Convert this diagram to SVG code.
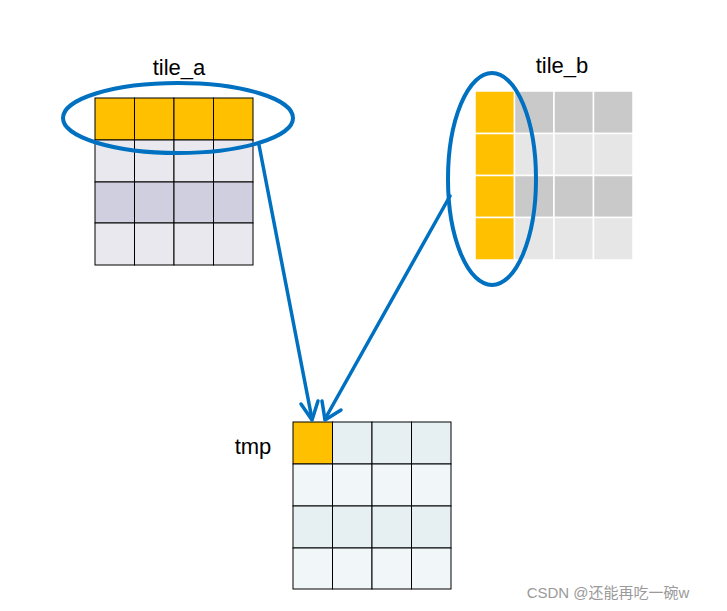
<svg xmlns="http://www.w3.org/2000/svg" width="727" height="611" viewBox="0 0 727 611">
<style>
.t{font-family:"Liberation Sans",Arial,sans-serif;font-size:22px;fill:#000}
.ga rect,.gt rect{stroke:#000;stroke-width:1}
.gb rect{stroke:#fff;stroke-width:1.5}
.ell{fill:none;stroke:#0070C0;stroke-width:4}
.c{fill:none;stroke:#0070C0;stroke-width:3.5;stroke-linecap:round;stroke-linejoin:round}
</style>
<rect width="727" height="611" fill="#fff"/>
<g id="tile_a" class="ga">
<rect x="95" y="98" width="39.5" height="42" fill="#FFC000"/><rect x="134.5" y="98" width="39.5" height="42" fill="#FFC000"/><rect x="174" y="98" width="39.5" height="42" fill="#FFC000"/><rect x="213.5" y="98" width="39.5" height="42" fill="#FFC000"/>
<rect x="95" y="140" width="39.5" height="42" fill="#E8E8EE"/><rect x="134.5" y="140" width="39.5" height="42" fill="#E8E8EE"/><rect x="174" y="140" width="39.5" height="42" fill="#E8E8EE"/><rect x="213.5" y="140" width="39.5" height="42" fill="#E8E8EE"/>
<rect x="95" y="182" width="39.5" height="41" fill="#CFCFDF"/><rect x="134.5" y="182" width="39.5" height="41" fill="#CFCFDF"/><rect x="174" y="182" width="39.5" height="41" fill="#CFCFDF"/><rect x="213.5" y="182" width="39.5" height="41" fill="#CFCFDF"/>
<rect x="95" y="223" width="39.5" height="42" fill="#E8E8EE"/><rect x="134.5" y="223" width="39.5" height="42" fill="#E8E8EE"/><rect x="174" y="223" width="39.5" height="42" fill="#E8E8EE"/><rect x="213.5" y="223" width="39.5" height="42" fill="#E8E8EE"/>
<text class="t" x="179" y="75" text-anchor="middle">tile_a</text>
<ellipse class="ell" cx="178" cy="118" rx="115" ry="35"/>
</g>
<g id="tile_b" class="gb">
<rect x="475" y="91" width="39.5" height="42.5" fill="#FFC000"/><rect x="514.5" y="91" width="39.5" height="42.5" fill="#C9C9C9"/><rect x="554" y="91" width="39.5" height="42.5" fill="#C9C9C9"/><rect x="593.5" y="91" width="39.5" height="42.5" fill="#C9C9C9"/>
<rect x="475" y="133.5" width="39.5" height="42" fill="#FFC000"/><rect x="514.5" y="133.5" width="39.5" height="42" fill="#E6E6E6"/><rect x="554" y="133.5" width="39.5" height="42" fill="#E6E6E6"/><rect x="593.5" y="133.5" width="39.5" height="42" fill="#E6E6E6"/>
<rect x="475" y="175.5" width="39.5" height="42" fill="#FFC000"/><rect x="514.5" y="175.5" width="39.5" height="42" fill="#C9C9C9"/><rect x="554" y="175.5" width="39.5" height="42" fill="#C9C9C9"/><rect x="593.5" y="175.5" width="39.5" height="42" fill="#C9C9C9"/>
<rect x="475" y="217.5" width="39.5" height="42.5" fill="#FFC000"/><rect x="514.5" y="217.5" width="39.5" height="42.5" fill="#E6E6E6"/><rect x="554" y="217.5" width="39.5" height="42.5" fill="#E6E6E6"/><rect x="593.5" y="217.5" width="39.5" height="42.5" fill="#E6E6E6"/>
<text class="t" x="562" y="73" text-anchor="middle" style="stroke:none">tile_b</text>
<ellipse class="ell" cx="492" cy="179" rx="44" ry="106"/>
</g>
<g id="tmp" class="gt">
<rect x="293" y="422" width="39.5" height="42" fill="#FFC000"/><rect x="332.5" y="422" width="39.5" height="42" fill="#E6F0F2"/><rect x="372" y="422" width="39.5" height="42" fill="#E6F0F2"/><rect x="411.5" y="422" width="39.5" height="42" fill="#E6F0F2"/>
<rect x="293" y="464" width="39.5" height="42" fill="#F1F6F9"/><rect x="332.5" y="464" width="39.5" height="42" fill="#F1F6F9"/><rect x="372" y="464" width="39.5" height="42" fill="#F1F6F9"/><rect x="411.5" y="464" width="39.5" height="42" fill="#F1F6F9"/>
<rect x="293" y="506" width="39.5" height="42" fill="#E6F0F2"/><rect x="332.5" y="506" width="39.5" height="42" fill="#E6F0F2"/><rect x="372" y="506" width="39.5" height="42" fill="#E6F0F2"/><rect x="411.5" y="506" width="39.5" height="42" fill="#E6F0F2"/>
<rect x="293" y="548" width="39.5" height="41" fill="#F1F6F9"/><rect x="332.5" y="548" width="39.5" height="41" fill="#F1F6F9"/><rect x="372" y="548" width="39.5" height="41" fill="#F1F6F9"/><rect x="411.5" y="548" width="39.5" height="41" fill="#F1F6F9"/>
<text class="t" x="253" y="454" text-anchor="middle" style="stroke:none">tmp</text>
</g>
<g id="connectors">
<path class="c" d="M259,145 L312,419"/>
<path class="c" d="M301,404 L312,420 L318,401"/>
<path class="c" d="M450,196 L325,419"/>
<path class="c" d="M322,401 L325,420 L341,410"/>
</g>
<text x="608" y="598" text-anchor="middle" style="font-family:'Liberation Sans','Noto Sans CJK SC',sans-serif;font-size:15px;fill:#9a9a9a">CSDN @还能再吃一碗w</text>
</svg>
